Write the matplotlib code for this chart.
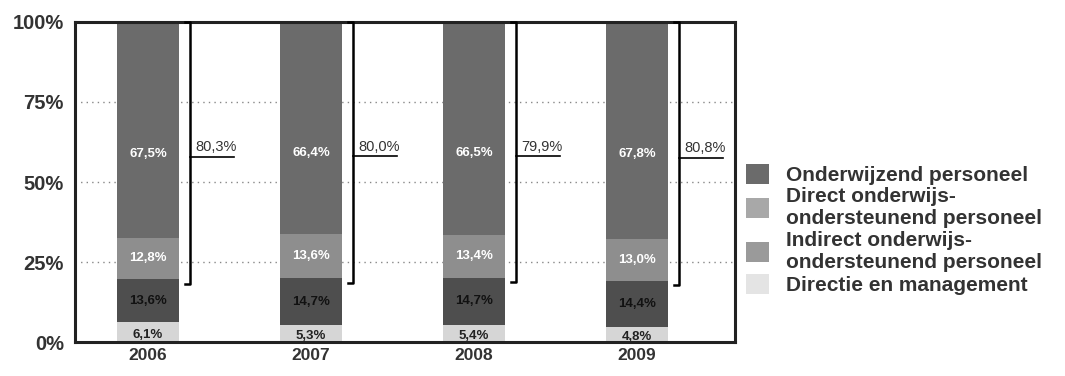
import matplotlib
matplotlib.use("Agg")
import matplotlib.pyplot as plt
from matplotlib.patches import Patch
import numpy as np

plt.rcParams['font.family'] = ['Liberation Sans', 'DejaVu Sans']

years = ["2006", "2007", "2008", "2009"]
series_names = ["Directie en management",
                "Indirect onderwijs-\nondersteunend personeel",
                "Direct onderwijs-\nondersteunend personeel",
                "Onderwijzend personeel"]
directie = [6.1, 5.3, 5.4, 4.8]
indirect = [13.6, 14.7, 14.7, 14.4]
direct = [12.8, 13.6, 13.4, 13.0]
onderwijzend = [67.5, 66.4, 66.5, 67.8]
bracket_totals = [80.3, 80.0, 79.9, 80.8]
y_ticks = [0, 25, 50, 75, 100]

colors = ["#d6d6d6", "#4e4e4e", "#8e8e8e", "#6b6b6b"]
legend_colors = ["#e4e4e4", "#9a9a9a", "#a8a8a8", "#6b6b6b"]
text_colors = ["#222222", "#111111", "white", "white"]

def fmt(v):
    return f"{v:.1f}".replace(".", ",") + "%"

fig = plt.figure(figsize=(10.65, 3.76), dpi=100)
ax = fig.add_axes([0.0704, 0.0904, 0.6197, 0.8511])

x = np.arange(len(years))
w = 0.38
data = [directie, indirect, direct, onderwijzend]
bottom = np.zeros(len(years))
for i, vals in enumerate(data):
    vals = np.array(vals)
    ax.bar(x, vals, w, bottom=bottom, color=colors[i], zorder=2, linewidth=0)
    for k, (xi, b, v) in enumerate(zip(x, bottom, vals)):
        if i == 3:
            yy = (100 + (100 - bracket_totals[k])) / 2 - 1
        elif i == 0:
            yy = b + v * 0.35
        else:
            yy = b + v / 2
        ax.text(xi, yy, fmt(v), ha="center", va="center", fontsize=9.5,
                color=text_colors[i], fontweight="bold", zorder=4)
    bottom = bottom + vals

# brackets
off = 0.258
for xi, tot in zip(x, bracket_totals):
    bx = xi + off
    lo = 100 - tot - 1.5
    ax.plot([bx - 0.03, bx, bx, bx - 0.03], [100, 100, lo, lo],
            color="black", lw=1.8, zorder=3, clip_on=False)
    mid = (100 - tot + 100) / 2 - 2
    ax.plot([bx, bx + 0.27], [mid, mid], color="black", lw=1.2, zorder=3)
    ax.text(bx + 0.03, mid + 0.8, fmt(tot), ha="left", va="bottom", fontsize=10.5,
            color="#333333", zorder=4)

ax.set_xlim(-0.448, 3.6)
ax.set_ylim(0, 100)
ax.set_yticks(y_ticks)
ax.set_yticklabels([f"{t}%" for t in y_ticks], fontsize=14.5, fontweight="bold",
                   color="#333333")
ax.set_xticks(x)
ax.set_xticklabels(years, fontsize=12.5, fontweight="bold", color="#333333")
ax.tick_params(axis="y", length=0, pad=8)
ax.tick_params(axis="x", length=0, pad=4)
for t in [25, 50, 75]:
    ax.axhline(t, color="#888888", lw=1, ls=(0, (1, 3)), zorder=1)
for s in ax.spines.values():
    s.set_linewidth(2.2)
    s.set_color("#222222")

handles = [Patch(facecolor=legend_colors[i], edgecolor="none") for i in range(4)][::-1]
labels = series_names[::-1]
fig.legend(handles, labels, loc="center left", bbox_to_anchor=(0.683, 0.39),
           frameon=False, prop={"size": 15, "weight": "bold"}, handlelength=1.1,
           handleheight=1.1, handletextpad=0.8, labelspacing=0.12,
           labelcolor="#333333")

fig.savefig("out.png", dpi=100)
